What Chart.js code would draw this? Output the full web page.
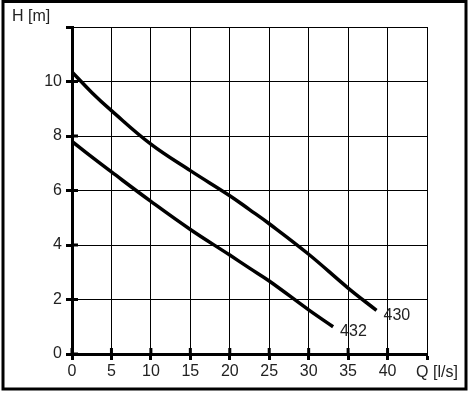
<!DOCTYPE html>
<html>
<head>
<meta charset="utf-8">
<script src="https://cdn.jsdelivr.net/npm/chart.js@4"></script>
<style>
  html, body { margin: 0; padding: 0; background: #fff; }
  #wrap { width: 472px; height: 393px; position: relative; }
</style>
</head>
<body>
<div id="wrap"><canvas id="pumpChart" width="472" height="393"></canvas></div>
<script>
// Pump curves
const flow430 = [0, 2.5, 5, 10, 15, 20, 22.5, 25, 30, 35, 38.6];
const head430 = [10.35, 9.6, 8.93, 7.7, 6.73, 5.81, 5.3, 4.78, 3.66, 2.42, 1.6];
const flow432 = [0, 2.5, 5, 10, 15, 20, 22.5, 25, 30, 33.1];
const head432 = [7.8, 7.23, 6.68, 5.6, 4.57, 3.63, 3.15, 2.68, 1.62, 1.0];
const curveNames = ['430', '432'];
const xTicks = [0, 5, 10, 15, 20, 25, 30, 35, 40];
const yTicks = [0, 2, 4, 6, 8, 10];
const xTitle = 'Q [l/s]';
const yTitle = 'H [m]';

const FONT = 'Liberation Sans, Arial, sans-serif';
const TEXT = '#222';

function toPoints(xs, ys) {
    return xs.map((x, i) => ({ x: x, y: ys[i] }));
}

// frame, inner tick marks, axis titles and curve names
const decorPlugin = {
    id: 'decor',
    afterDraw(chart) {
        const ctx = chart.ctx;
        const xs = chart.scales.x;
        const ys = chart.scales.y;
        const area = chart.chartArea;
        ctx.save();
        ctx.strokeStyle = '#000';
        ctx.lineWidth = 3;
        ctx.strokeRect(3, 1.5, 463, 387.5);

        // short thick marks inside the plot
        ctx.beginPath();
        yTicks.forEach(v => {
            const py = ys.getPixelForValue(v);
            ctx.moveTo(area.left, py);
            ctx.lineTo(area.left + 6, py);
        });
        xTicks.forEach(v => {
            const px = xs.getPixelForValue(v);
            ctx.moveTo(px, area.bottom);
            ctx.lineTo(px, area.bottom - 6);
        });
        ctx.stroke();

        ctx.fillStyle = TEXT;
        ctx.font = '16px ' + FONT;
        ctx.textBaseline = 'middle';
        ctx.textAlign = 'left';
        ctx.fillText(yTitle, 12, 17);
        ctx.textAlign = 'center';
        ctx.fillText(xTitle, xs.getPixelForValue(45) + 10, 373);

        ctx.textAlign = 'left';
        chart.data.datasets.forEach(ds => {
            const last = ds.data[ds.data.length - 1];
            ctx.fillText(ds.label, xs.getPixelForValue(last.x) + 7, ys.getPixelForValue(last.y) + 5);
        });
        ctx.restore();
    }
};

const ctx = document.getElementById('pumpChart').getContext('2d');
new Chart(ctx, {
    type: 'scatter',
    data: {
        datasets: [{
            label: curveNames[0],
            data: toPoints(flow430, head430),
            showLine: true,
            borderColor: '#000',
            borderWidth: 3.5,
            pointRadius: 0,
            tension: 0.4
        }, {
            label: curveNames[1],
            data: toPoints(flow432, head432),
            showLine: true,
            borderColor: '#000',
            borderWidth: 3.5,
            pointRadius: 0,
            tension: 0.4
        }]
    },
    options: {
        responsive: false,
        animation: false,
        layout: { padding: { top: 27, right: 45, left: 0, bottom: 0 } },
        plugins: {
            legend: { display: false },
            tooltip: { enabled: false }
        },
        scales: {
            x: {
                type: 'linear',
                min: 0,
                max: 45,
                afterFit(scale) { scale.height = 39; },
                afterBuildTicks(scale) {
                    scale.ticks = xTicks.concat([45]).map(v => ({ value: v }));
                },
                ticks: {
                    color: TEXT,
                    font: { family: FONT, size: 16 },
                    padding: 2,
                    maxRotation: 0,
                    callback: v => xTicks.includes(v) ? String(v) : ''
                },
                grid: { color: '#000', lineWidth: 1, tickLength: 6, tickWidth: 3 },
                border: { color: '#000', width: 3 }
            },
            y: {
                type: 'linear',
                min: 0,
                max: 12,
                afterFit(scale) { scale.width = 72; },
                afterBuildTicks(scale) {
                    scale.ticks = yTicks.concat([12]).map(v => ({ value: v }));
                },
                ticks: {
                    color: TEXT,
                    font: { family: FONT, size: 16 },
                    padding: 4,
                    callback: v => yTicks.includes(v) ? String(v) : ''
                },
                grid: { color: '#000', lineWidth: 1, tickLength: 6, tickWidth: 3 },
                border: { color: '#000', width: 3 }
            }
        }
    },
    plugins: [decorPlugin]
});
</script>
</body>
</html>
